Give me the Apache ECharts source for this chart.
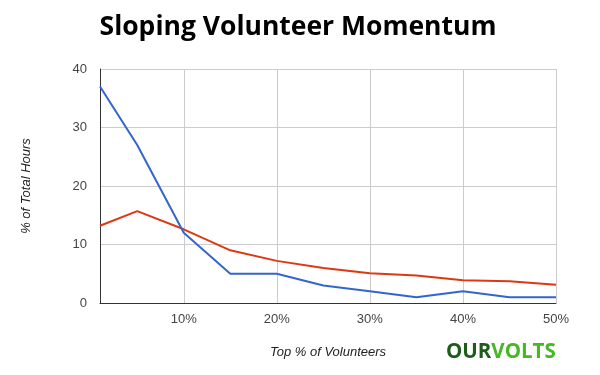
<!DOCTYPE html>
<html>
<head>
<meta charset="utf-8">
<script src="https://cdn.jsdelivr.net/npm/echarts@6/dist/echarts.min.js"></script>
<style>html,body{margin:0;padding:0;background:#fff}#c{width:600px;height:375px}</style>
</head>
<body>
<div id="c"></div>
<script>
const titleText = 'Sloping Volunteer Momentum';
const xTitle = 'Top % of Volunteers';
const yTitle = '% of Total Hours';
const topPct = [1, 5, 10, 15, 20, 25, 30, 35, 40, 45, 50];
const blueValues = [37, 27, 12, 5, 5, 3, 2, 1, 2, 1, 1];
const redValues = [13.2, 15.7, 12.6, 9, 7.2, 6, 5.1, 4.7, 3.9, 3.7, 3.1];

const chart = echarts.init(document.getElementById('c'), null, {renderer: 'canvas'});
chart.setOption({
  animation: false,
  backgroundColor: '#fff',
  title: {
    text: titleText,
    left: 293, top: 9, textAlign: 'center',
    textStyle: {fontFamily: 'Open Sans', fontWeight: 'bold', fontSize: 26.5, color: '#000'}
  },
  grid: {left: 100, right: 44, top: 69, bottom: 72},
  xAxis: {
    type: 'value', min: 1, max: 50, splitNumber: 5,
    axisLine: {show: true, lineStyle: {color: '#333', width: 1}},
    axisTick: {show: false},
    axisLabel: {
      color: '#444', fontFamily: 'Liberation Sans', fontSize: 13, margin: 10,
      formatter: v => (v % 10 === 0 ? v + '%' : '')
    },
    splitLine: {show: true, lineStyle: {color: '#ccc', width: 1}},
    name: xTitle, nameLocation: 'middle', nameGap: 43,
    nameTextStyle: {fontFamily: 'Liberation Sans', fontStyle: 'italic', fontSize: 13, color: '#222'}
  },
  yAxis: {
    type: 'value', min: 0, max: 40, interval: 10,
    axisLine: {show: true, lineStyle: {color: '#333', width: 1}},
    axisTick: {show: false},
    axisLabel: {color: '#444', fontFamily: 'Liberation Sans', fontSize: 13, margin: 13},
    splitLine: {show: true, lineStyle: {color: '#ccc', width: 1}},
    name: yTitle, nameLocation: 'middle', nameGap: 67, nameRotate: 90,
    nameTextStyle: {fontFamily: 'Liberation Sans', fontStyle: 'italic', fontSize: 13, color: '#222'}
  },
  series: [
    {type: 'line', data: topPct.map((x, i) => [x, blueValues[i]]), symbol: 'none',
     lineStyle: {color: '#3366cc', width: 2}, z: 3},
    {type: 'line', data: topPct.map((x, i) => [x, redValues[i]]), symbol: 'none',
     lineStyle: {color: '#dc3912', width: 2}, z: 2}
  ],
  graphic: [{
    type: 'text', left: 446, top: 342,
    style: {
      text: '{a|OUR}{b|VOLTS}',
      rich: {
        a: {fontFamily: 'Open Sans', fontWeight: 'bold', fontSize: 20.5, fill: '#1e5c1a'},
        b: {fontFamily: 'Open Sans', fontWeight: 'bold', fontSize: 20.5, fill: '#45b823'}
      }
    }
  }]
});
</script>
</body>
</html>
